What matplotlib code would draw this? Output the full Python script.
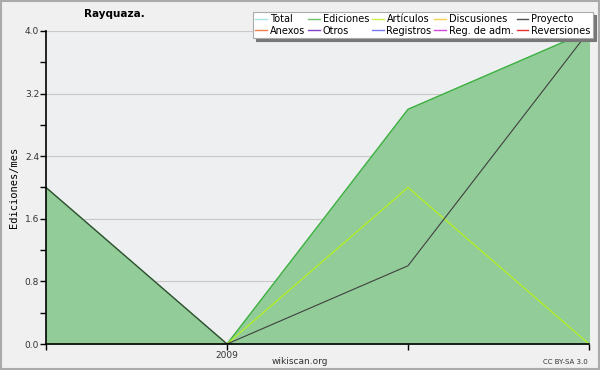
import numpy as np
import matplotlib.pyplot as plt
from matplotlib.lines import Line2D
from matplotlib.patches import Rectangle

# monthly values
months = [0, 1, 2, 3]
month_labels = ["", "2009", "", ""]
ediciones = [2, 0, 3, 4]
articulos = [0, 0, 2, 0]
proyecto = [2, 0, 1, 4]

legend_names = ["Total", "Ediciones", "Artículos", "Discusiones", "Proyecto",
                "Anexos", "Otros", "Registros", "Reg. de adm.", "Reversiones"]
legend_colors = ["#a8e4e0", "#70c070", "#c8f050", "#f8d050", "#505050",
                 "#f08048", "#8040c8", "#7878f0", "#d048e0", "#e83030"]

fig = plt.figure(figsize=(6, 3.7), dpi=100, facecolor="#f0f0f0")
fig.patches.append(Rectangle((0.002, 0.003), 0.996, 0.994, transform=fig.transFigure,
                             fill=False, edgecolor="#aaaaaa", linewidth=1.5))

ax = fig.add_axes([46 / 600, 26 / 370, 543 / 600, 313 / 370])
ax.set_facecolor("#eeeff1")

ax.fill_between(months, ediciones, color="#92cc98", zorder=2)
ax.plot(months, ediciones, color="#3cb040", lw=1.0, zorder=3)
ax.plot(months, articulos, color="#b4f020", lw=0.9, zorder=4)
ax.plot(months, proyecto, color="#404040", lw=0.8, zorder=5)

ax.set_xlim(0, 3)
ax.set_ylim(0, 4)
ax.set_xticks(months)
ax.set_xticklabels(month_labels)
ax.set_yticks(np.arange(0, 4.01, 0.8))
ax.set_yticklabels([f"{v:.1f}" for v in np.arange(0, 4.01, 0.8)])
ax.set_yticks(np.arange(0.4, 4.0, 0.8), minor=True)
ax.tick_params(axis="both", which="both", direction="out", length=4, width=1,
               labelsize=6.5, colors="black", labelcolor="#333333", pad=1)
ax.grid(axis="y", which="major", color="#c8c8c8", lw=0.8, zorder=1)
for s in ["top", "right"]:
    ax.spines[s].set_visible(False)
for s in ["left", "bottom"]:
    ax.spines[s].set_linewidth(1.2)
    ax.spines[s].set_zorder(6)

ax.set_ylabel("Ediciones/mes", family="DejaVu Sans Mono", fontsize=7.5, labelpad=4)

fig.text(114 / 600, 1 - 14 / 370, "Rayquaza.", fontsize=7.5, fontweight="bold",
         ha="center", va="center")
fig.text(300 / 600, 1 - 361 / 370, "wikiscan.org", fontsize=6.5, ha="center",
         va="center", color="#333333")
fig.text(588 / 600, 1 - 362 / 370, "CC BY-SA 3.0", fontsize=5, ha="right",
         va="center", color="#333333")

# legend is filled column by column
order = [0, 5, 1, 6, 2, 7, 3, 8, 4, 9]
handles = [Line2D([], [], color=legend_colors[i], lw=1) for i in order]
labels = [legend_names[i] for i in order]
leg = fig.legend(handles, labels, ncol=5, fontsize=7, loc="upper right",
                 bbox_to_anchor=(593 / 600, 1 - 12 / 370), frameon=True,
                 fancybox=False, shadow={"color": "#777777", "alpha": 1},
                 handlelength=1.2, handletextpad=0.3, columnspacing=0.3,
                 labelspacing=0.15, borderpad=0.25, borderaxespad=0)
leg.get_frame().set_edgecolor("#aaaaaa")
leg.get_frame().set_linewidth(0.8)

fig.savefig("out.png", dpi=100, facecolor=fig.get_facecolor())
